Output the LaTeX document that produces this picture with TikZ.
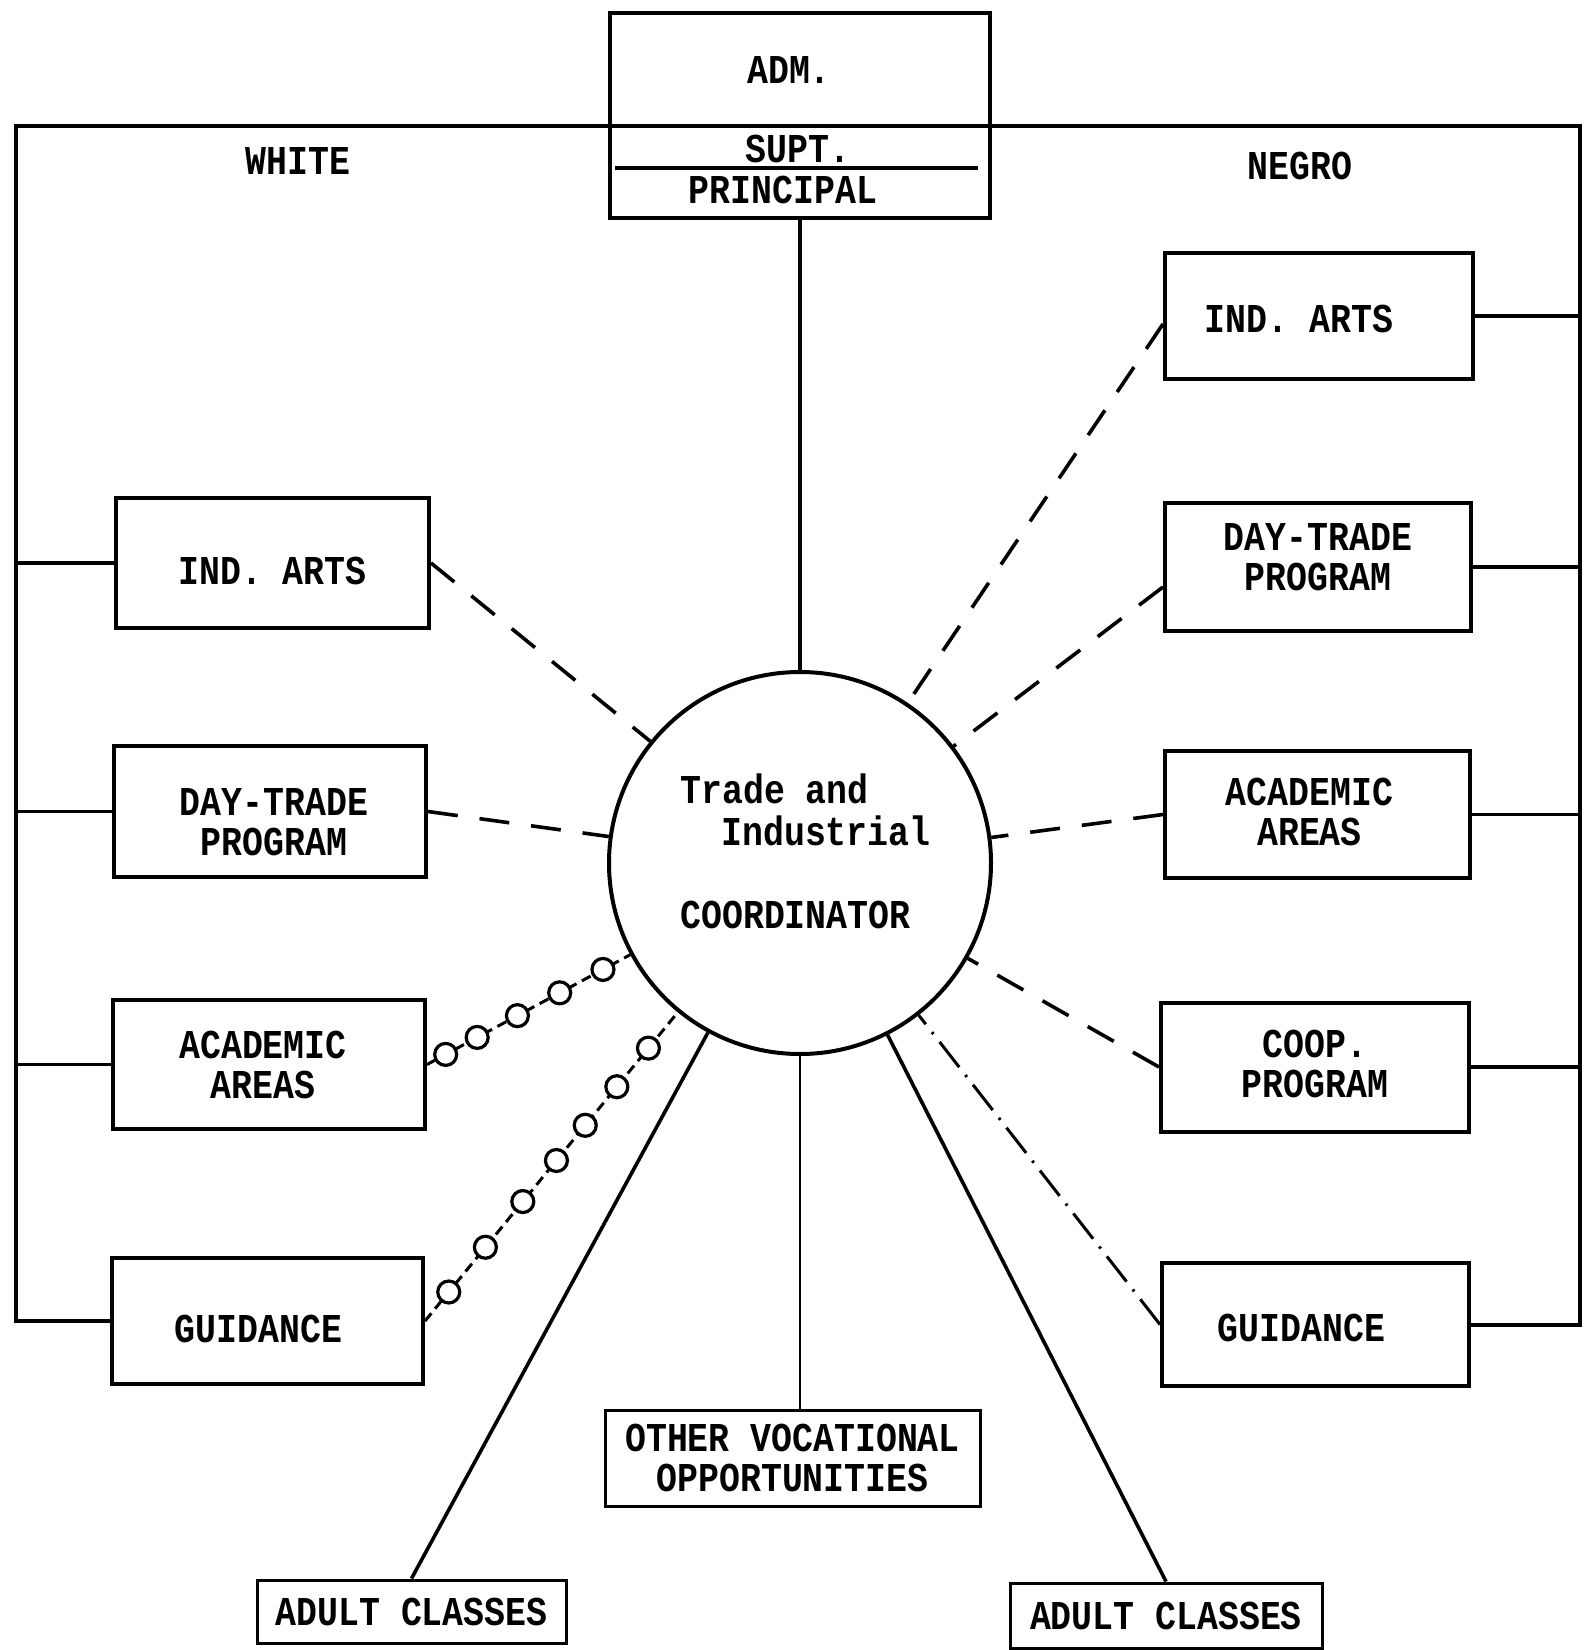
\documentclass[tikz,border=0pt]{standalone}
\usepackage{fontspec}
\newfontfamily\twfont[FakeStretch=0.85]{Liberation Mono}
\newcommand{\tyfont}{\twfont\bfseries\fontsize{20.5}{20}\selectfont}
% shift the text of a box by (dx, dy) without changing the box
\newcommand{\mvtxt}[3]{\raisebox{#2}[\height][\depth]{\makebox[\width]{\hspace*{#1}\begin{tabular}{@{}c@{}}#3\end{tabular}\hspace*{-#1}}}}
\begin{document}
\begin{tikzpicture}[x=0.5pt,y=-0.5pt,
  box/.style={draw, line width=2pt, inner sep=0pt, font=\tyfont, align=center},
  thinbox/.style={box, line width=1.5pt},
  lbl/.style={font=\tyfont, inner sep=0pt},
  conn/.style={line width=1.8pt},
  dashc/.style={line width=1.8pt, dash pattern=on 15pt off 11pt},
  dashdotc/.style={line width=1.5pt, dash pattern=on 16pt off 5pt on 1.2pt off 5pt},
  chainc/.style={line width=1.5pt, dash pattern=on 5pt off 3pt},
  ring/.style={circle, draw, solid, fill=white, line width=1.6pt, minimum size=11pt, inner sep=0pt}
]
\useasboundingbox (0,0) rectangle (1586,1650);

% top box
\node[box, minimum width=190pt, minimum height=56.5pt] (adm) at (800,69.5) {};
\node[box, minimum width=190pt, minimum height=46pt] (sp) at (800,172) {};
\node[lbl, anchor=base] (admt) at (789,83) {ADM.};
\node[lbl, anchor=base] (supt) at (798,162) {SUPT.};
\node[lbl, anchor=base] (princ) at (783,203) {PRINCIPAL};
\draw[line width=1.8pt] (615,168) coordinate (s1) -- (978,168) coordinate (s2);

% frame
\coordinate (fl) at (16,126);
\coordinate (fr) at (1580,126);
\node[lbl, anchor=base] (white) at (298,174) {WHITE};
\node[lbl, anchor=base] (negro) at (1300,179) {NEGRO};

% left boxes
\node[box, minimum width=156.5pt, minimum height=65pt] (lind) at (272.5,563) {\mvtxt{0pt}{-6.6pt}{IND. ARTS}};
\node[box, minimum width=156pt, minimum height=65.5pt] (lday) at (270,811.5) {\mvtxt{2pt}{-8.2pt}{DAY-TRADE\\PROGRAM}};
\node[box, minimum width=156pt, minimum height=64.5pt] (lacad) at (269,1064.5) {\mvtxt{-3pt}{-3.2pt}{ACADEMIC\\AREAS}};
\node[box, minimum width=155.5pt, minimum height=63pt] (lguid) at (267.5,1321) {\mvtxt{-4.5pt}{-6.6pt}{GUIDANCE}};

% right boxes
\node[box, minimum width=154pt, minimum height=63pt] (rind) at (1319,316) {\mvtxt{-10pt}{-4.1pt}{IND. ARTS}};
\node[box, minimum width=153pt, minimum height=64pt] (rday) at (1318,567) {\mvtxt{0pt}{2.4pt}{DAY-TRADE\\PROGRAM}};
\node[box, minimum width=152.5pt, minimum height=63.5pt] (racad) at (1317.5,814.5) {\mvtxt{-4pt}{-1.7pt}{ACADEMIC\\AREAS}};
\node[box, minimum width=154pt, minimum height=64.5pt] (rcoop) at (1315,1067) {\mvtxt{0pt}{-1.1pt}{COOP.\\PROGRAM}};
\node[box, minimum width=153.5pt, minimum height=61.5pt] (rguid) at (1315.5,1324.5) {\mvtxt{-7pt}{-4.6pt}{GUIDANCE}};

% bottom boxes
\node[thinbox, minimum width=187.5pt, minimum height=48pt] (other) at (792.5,1458) {OTHER VOCATIONAL\\OPPORTUNITIES};
\node[thinbox, minimum width=154.5pt, minimum height=31.5pt] (ladult) at (411.5,1611.5) {ADULT CLASSES};
\node[thinbox, minimum width=156pt, minimum height=32.5pt] (radult) at (1166,1615.5) {ADULT CLASSES};

% coordinator circle
\node[circle, draw, line width=2pt, minimum size=191pt, inner sep=0pt] (coord) at (800,863) {};
\node[lbl, anchor=base west] (ct1) at (680,803) {Trade and};
\node[lbl, anchor=base west] (ct2) at (721,845) {Industrial};
\node[lbl, anchor=base west] (ct3) at (680,928) {COORDINATOR};

% frame lines
\draw[line width=2pt] (lguid.west) -| (fl) -- (fr) |- (rguid.east);
\foreach \b in {lind,lday,lacad}{\draw[conn] (\b.west) -- (\b.west -| fl);}
\foreach \b in {rind,rday,racad,rcoop}{\draw[conn] (\b.east) -- (\b.east -| fr);}

% solid connectors
\draw[conn] (sp.south) -- (coord.north);
\draw[conn] (coord) -- (ladult.north);
\draw[conn] (coord) -- (radult.north);
\draw[line width=1.4pt] (coord.south) -- (coord.south |- other.north);

% dashed connectors
\draw[dashc] (lind.east) -- (coord);
\draw[dashc] (lday.east) -- (coord);
\draw[dashc] ([yshift=-4pt]rind.west) -- (coord);
\draw[dashc] ([yshift=-10pt]rday.west) -- (coord);
\draw[dashc] (racad.west) -- (coord);
\draw[dashc] (rcoop.west) -- (coord);
\draw[dashdotc] (rguid.west) -- (coord);

% chains of rings
\draw[chainc] (lacad.east) -- (coord)
  node[ring, pos=0.092] (ra1) {} node[ring, pos=0.247] (ra2) {}
  node[ring, pos=0.445] (ra3) {} node[ring, pos=0.653] (ra4) {}
  node[ring, pos=0.866] (ra5) {};
\draw[chainc] (lguid.east) -- (coord)
  node[ring, pos=0.094] (rg1) {} node[ring, pos=0.239] (rg2) {}
  node[ring, pos=0.387] (rg3) {} node[ring, pos=0.52] (rg4) {}
  node[ring, pos=0.634] (rg5) {} node[ring, pos=0.759] (rg6) {}
  node[ring, pos=0.884] (rg7) {};
\end{tikzpicture}
\end{document}
